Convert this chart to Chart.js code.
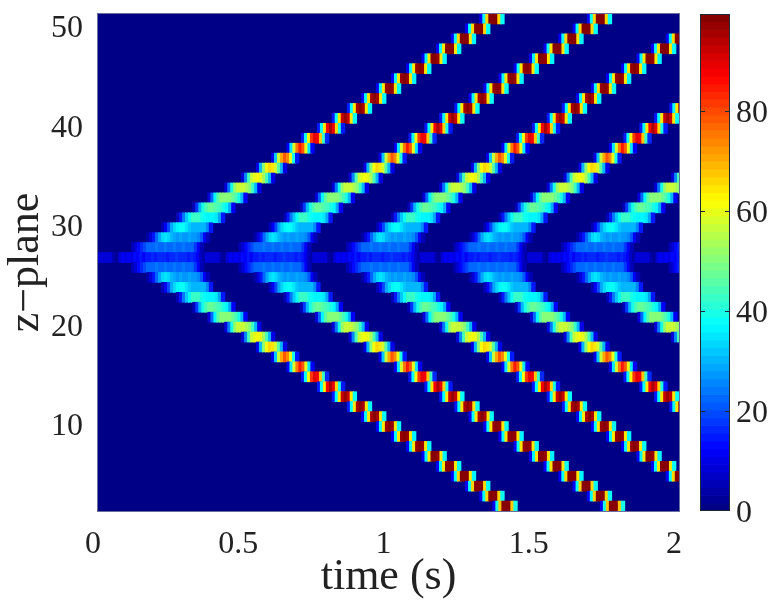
<!DOCTYPE html>
<html>
<head>
<meta charset="utf-8">
<title>z-plane vs time</title>
<script src="https://cdn.jsdelivr.net/npm/chart.js@4"></script>
<style>
  html, body { margin: 0; background: #fff; }
  #wrap { position: relative; width: 784px; height: 601px; }
  canvas { position: absolute; left: 0; top: 0; }
</style>
</head>
<body>
<div id="wrap">
  <canvas id="map" width="784" height="601"></canvas>
  <canvas id="bar" width="784" height="601"></canvas>
</div>
<script>
// axis ticks
const timeTicks = [0, 0.5, 1, 1.5, 2];
const zTicks = [10, 20, 30, 40, 50];
const colorTicks = [0, 20, 40, 60, 80];

// time at which each wave starts (s)
const sweepStart = [0, 0.37, 0.74, 1.11, 1.48, 1.85];
// plane numbers, top row first, and how far each one is from the source plane
const zPlanes = [50,49,48,47,46,45,44,43,42,41,40,39,38,37,36,35,34,33,32,31,30,29,28,27,26,25,24,23,22,21,20,19,18,17,16,15,14,13,12,11,10,9,8,7,6,5,4,3,2,1];
const sourcePlane = 26;
// width of one time bin (s)
const binWidth = 0.0103;

// arrival of the wave per distance from the source plane (s)
const arrival = [0, 0.116, 0.168, 0.219, 0.271, 0.327, 0.379, 0.437, 0.495, 0.546, 0.598, 0.651, 0.701,
  0.756, 0.807, 0.859, 0.908, 0.959, 1.011, 1.063, 1.116, 1.166, 1.217, 1.266, 1.315, 1.36];

// intensity per time bin after arrival, one list per distance
const d0 = [8,9,9,8,8,4,3,8,11,10,12,10,13,11,14,12,15,14,16,15,17,16,17,15,17,16,18,17,16,17,15,16,14,12,7,4];
const d1 = [5,9,13,17,20,22,23,23,24,23,23,24,23,23,24,23,23,24,23,23,22,18,12,6];
const d2 = [4,9,15,22,28,33,35,34,30,28,27,28,27,27,28,27,27,26,21,12,5];
const d3 = [5,12,20,28,33,37,38,38,35,32,31,31,31,30,30,26,14];
const d4 = [5,14,24,32,38,42,43,42,40,38,37,36,36,35,28,14];
const d5 = [6,18,30,40,45,47,47,46,44,42,40,37,28,12];
const d6 = [8,22,36,46,50,51,51,50,48,45,40,30,12];
const d7 = [8,24,40,52,56,57,56,54,50,42,30,10];
const d8 = [8,26,44,56,60,61,60,54,45,30,10];
const d9 = [10,30,50,62,66,65,58,46,30,10];
const d10 = [10,32,56,70,78,74,60,40,14];
const d11 = [12,35,58,76,84,78,60,35,12];
const d12 = [14,38,62,82,90,88,68,42,16];
const d13 = [14,38,65,88,95,90,66,40,14];
const d14 = [14,38,65,92,97,92,65,38];
const d15 = [14,38,65,95,98,95,65,38];
const d16 = [12,38,65,96,99,96,65,38];
const d17 = [12,38,65,97,99,97,65,38];
const d18 = [12,38,64,97,99,97,64,36];
const d19 = [12,38,65,97,99,97,65,38];
const d20 = [12,37,65,98,99,97,64,36];
const d21 = [12,38,65,98,99,98,65,38];
const d22 = [12,38,66,98,99,98,64,36];
const d23 = [12,38,66,98,99,98,66,38];
const d24 = [12,38,66,99,99,98,66,38];
const d25 = [12,40,68,99,99,99,68,40];
const profiles = [d0,d1,d2,d3,d4,d5,d6,d7,d8,d9,d10,d11,d12,d13,d14,d15,d16,d17,d18,d19,d20,d21,d22,d23,d24,d25];

const colorMax = 99.4;
const levels = 64;

// matlab jet colormap, 64 steps
function jet(v) {
  const step = Math.min(levels - 1, Math.floor(v / colorMax * levels));
  const f = (step + 0.5) / levels;
  const ch = c => Math.round(255 * Math.max(0, Math.min(1, 1.5 - Math.abs(4 * f - c))));
  return `rgb(${ch(3)},${ch(2)},${ch(1)})`;
}

// build the cell list for the floating bars
const cells = [];
zPlanes.forEach(z => {
  const dist = Math.abs(z - sourcePlane);
  sweepStart.forEach(start => {
    profiles[dist].forEach((v, i) => {
      const t = start + arrival[dist] + (i + 0.5) * binWidth;
      if (t < 2.01) cells.push({ x: t, y: [z + 0.1, z + 1.1], v: v });
    });
  });
});

const serif = "'Liberation Serif', 'Times New Roman', serif";
const inkColor = '#222';

// dark blue ground behind the cells + thin frame
const mapGround = {
  id: 'mapGround',
  beforeDatasetsDraw(chart) {
    const a = chart.chartArea, c = chart.ctx;
    c.save();
    c.fillStyle = jet(0);
    c.fillRect(a.left, a.top, a.width, a.height);
    c.restore();
  },
  afterDatasetsDraw(chart) {
    const a = chart.chartArea, c = chart.ctx;
    c.save();
    c.strokeStyle = '#6a6f9c';
    c.lineWidth = 1;
    c.strokeRect(a.left - 0.5, a.top - 0.5, a.width + 1, a.height + 1);
    c.restore();
  }
};

new Chart(document.getElementById('map'), {
  type: 'bar',
  data: {
    datasets: [{
      data: cells,
      barThickness: 3.7,
      grouped: false,
      backgroundColor: ctx => jet(ctx.raw ? ctx.raw.v : 0)
    }]
  },
  plugins: [mapGround],
  options: {
    responsive: false,
    animation: false,
    events: [],
    layout: { padding: { top: 14, right: 105, left: 0, bottom: 0 } },
    plugins: { legend: { display: false }, tooltip: { enabled: false } },
    scales: {
      x: {
        type: 'linear', min: 0, max: 2, offset: false,
        grid: { display: false }, border: { display: false },
        afterBuildTicks: s => { s.ticks = timeTicks.map(v => ({ value: v })); },
        afterFit: s => { s.height = 90; s.paddingLeft = 0; s.paddingRight = 0; },
        ticks: {
          color: inkColor, font: { family: serif, size: 32 }, padding: 6, maxRotation: 0,
          labelOffset: -5, autoSkip: false,
          callback: v => String(v)
        },
        title: { display: true, text: 'time (s)', color: inkColor, font: { family: serif, size: 44 }, padding: { top: 0, bottom: -3 } }
      },
      y: {
        type: 'linear', min: 1.1, max: 51.1,
        grid: { display: false }, border: { display: false },
        afterBuildTicks: s => { s.ticks = zTicks.map(v => ({ value: v })); },
        afterFit: s => { s.width = 98; s.paddingTop = 0; s.paddingBottom = 0; },
        ticks: {
          color: inkColor, font: { family: serif, size: 32 }, padding: 7, labelOffset: 4, autoSkip: false,
          callback: v => String(v)
        },
        title: { display: true, text: 'z\u2212plane', color: inkColor, font: { family: serif, size: 44 }, padding: { top: 0, bottom: 0 } }
      }
    }
  }
});

// colour bar: one floating bar per colormap step
const barSteps = [];
for (let i = 0; i < levels; i++) barSteps.push(i);

const barFrame = {
  id: 'barFrame',
  afterDatasetsDraw(chart) {
    const a = chart.chartArea, c = chart.ctx, s = chart.scales.y;
    c.save();
    c.strokeStyle = '#1c2a33';
    c.lineWidth = 1;
    c.strokeRect(a.left + 0.5, a.top + 0.5, a.width - 1, a.height - 1);
    colorTicks.slice(1).forEach(v => {
      const py = Math.round(s.getPixelForValue(v)) + 0.5;
      c.beginPath();
      c.moveTo(a.left, py); c.lineTo(a.left + 5, py);
      c.moveTo(a.right - 5, py); c.lineTo(a.right, py);
      c.stroke();
    });
    c.restore();
  }
};

new Chart(document.getElementById('bar'), {
  type: 'bar',
  data: {
    datasets: [{
      data: barSteps.map(i => ({ x: 0.5, y: [i * colorMax / levels, (i + 1) * colorMax / levels], v: (i + 0.5) * colorMax / levels })),
      barThickness: 30,
      backgroundColor: ctx => jet(ctx.raw ? ctx.raw.v : 0)
    }]
  },
  plugins: [barFrame],
  options: {
    responsive: false,
    animation: false,
    events: [],
    layout: { padding: { top: 14, right: 0, left: 700, bottom: 90 } },
    plugins: { legend: { display: false }, tooltip: { enabled: false } },
    scales: {
      x: { type: 'linear', min: 0, max: 1, display: false },
      y: {
        type: 'linear', position: 'right', min: 0, max: colorMax,
        grid: { display: false }, border: { display: false },
        afterBuildTicks: s => { s.ticks = colorTicks.map(v => ({ value: v })); },
        afterFit: s => { s.width = 54; s.paddingTop = 0; s.paddingBottom = 0; },
        ticks: {
          color: inkColor, font: { family: serif, size: 32 }, padding: -2, labelOffset: 3, autoSkip: false,
          callback: v => String(v)
        }
      }
    }
  }
});
</script>
</body>
</html>
